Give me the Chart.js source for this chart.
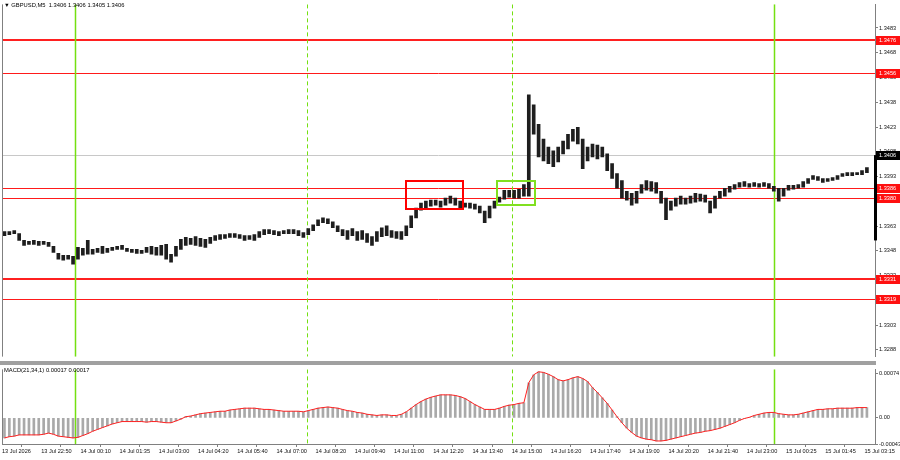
<!DOCTYPE html>
<html lang="en">
<head>
    <meta charset="UTF-8">
    <title>GBPUSD,M5</title>
    <script src="https://cdn.jsdelivr.net/npm/chart.js"></script>
    <style>
        body {
            margin: 0;
            background: #fff;
        }
        #wrap {
            position: relative;
            width: 900px;
            height: 460px;
            overflow: hidden;
            background: #fff;
        }
        canvas {
            position: absolute;
            left: 0;
        }
        #sep {
            position: absolute;
            left: 0;
            top: 361px;
            width: 876px;
            height: 4px;
            background: #a0a0a0;
        }
        .lbl {
            position: absolute;
            font-family: 'Liberation Sans', Arial, sans-serif;
            font-size: 5.8px;
            line-height: 7px;
            color: #000;
            white-space: pre;
        }
    </style>
</head>
<body>
<div id="wrap">
    <canvas id="mainChart" width="900" height="361" style="top:0"></canvas>
    <div id="sep"></div>
    <canvas id="macdChart" width="900" height="95" style="top:365px"></canvas>
    <div class="lbl" style="left:4px;top:2px">▼ GBPUSD,M5  1.3406 1.3406 1.3405 1.3406</div>
    <div class="lbl" style="left:4px;top:367px">MACD(21,34,1) 0.00017 0.00017</div>
</div>

<script>
// time axis labels, one every 16 five-minute bars
const timeLabels = ['13 Jul 2026', '13 Jul 22:50', '14 Jul 00:10', '14 Jul 01:35', '14 Jul 03:00', '14 Jul 04:20',
    '14 Jul 05:40', '14 Jul 07:00', '14 Jul 08:20', '14 Jul 09:40', '14 Jul 11:00', '14 Jul 12:20', '14 Jul 13:40',
    '14 Jul 15:00', '14 Jul 16:20', '14 Jul 17:40', '14 Jul 19:00', '14 Jul 20:20', '14 Jul 21:40', '14 Jul 23:00',
    '15 Jul 00:25', '15 Jul 01:45', '15 Jul 03:15'];
const timeTickBars = [0, 16, 32, 48, 64, 80, 96, 112, 128, 144, 160, 176, 192, 208, 224, 240, 256, 272, 288, 304, 320, 336, 352];

const priceTicks = [1.3288, 1.3303, 1.3318, 1.3333, 1.3348, 1.3363, 1.3378, 1.3393, 1.3408, 1.3423, 1.3438, 1.3453, 1.3468, 1.3483];
const macdTicks = [-0.00043, 0, 0.00074];

// price range of each slot (two M5 bars per slot)
const candleHigh = [
    1.33596, 1.33596, 1.33602, 1.33584, 1.33543, 1.33537, 1.33543, 1.33537, 1.33537, 1.33531,
    1.33507, 1.33465, 1.33453, 1.33453, 1.33447, 1.33501, 1.33495, 1.33543, 1.33489, 1.33495,
    1.33507, 1.33495, 1.33501, 1.33507, 1.33513, 1.33495, 1.33489, 1.33489, 1.33483, 1.33501,
    1.33507, 1.33501, 1.33513, 1.33519, 1.33459, 1.33507, 1.33549, 1.33561, 1.33555, 1.33566,
    1.33555, 1.33549, 1.33561, 1.33572, 1.33578, 1.33578, 1.33584, 1.33584, 1.33578, 1.33572,
    1.33572, 1.33578, 1.33596, 1.33608, 1.33608, 1.33602, 1.33596, 1.33602, 1.33608, 1.33608,
    1.33602, 1.33590, 1.33614, 1.33638, 1.33668, 1.33680, 1.33674, 1.33656, 1.33632, 1.33608,
    1.33602, 1.33614, 1.33596, 1.33602, 1.33584, 1.33566, 1.33596, 1.33620, 1.33632, 1.33602,
    1.33596, 1.33596, 1.33632, 1.33692, 1.33739, 1.33769, 1.33781, 1.33787, 1.33787, 1.33781,
    1.33799, 1.33811, 1.33799, 1.33781, 1.33769, 1.33769, 1.33763, 1.33751, 1.33721, 1.33751,
    1.33781, 1.33805, 1.33847, 1.33847, 1.33847, 1.33853, 1.33882, 1.34425, 1.34365, 1.34246,
    1.34157, 1.34109, 1.34085, 1.34109, 1.34145, 1.34186, 1.34216, 1.34228, 1.34157, 1.34109,
    1.34127, 1.34121, 1.34109, 1.34067, 1.34008, 1.33948, 1.33906, 1.33841, 1.33829, 1.33841,
    1.33882, 1.33906, 1.33900, 1.33894, 1.33841, 1.33799, 1.33781, 1.33799, 1.33811, 1.33799,
    1.33811, 1.33829, 1.33823, 1.33817, 1.33781, 1.33811, 1.33841, 1.33859, 1.33870, 1.33882,
    1.33894, 1.33900, 1.33888, 1.33894, 1.33888, 1.33894, 1.33888, 1.33870, 1.33859, 1.33859,
    1.33876, 1.33876, 1.33882, 1.33900, 1.33918, 1.33936, 1.33930, 1.33918, 1.33918, 1.33924,
    1.33936, 1.33948, 1.33954, 1.33954, 1.33954, 1.33966, 1.33984
];
const candleLow = [
    1.33572, 1.33578, 1.33584, 1.33543, 1.33513, 1.33519, 1.33519, 1.33513, 1.33519, 1.33507,
    1.33471, 1.33429, 1.33423, 1.33429, 1.33399, 1.33429, 1.33453, 1.33459, 1.33459, 1.33471,
    1.33465, 1.33471, 1.33483, 1.33489, 1.33489, 1.33477, 1.33471, 1.33465, 1.33465, 1.33471,
    1.33459, 1.33453, 1.33453, 1.33429, 1.33411, 1.33447, 1.33489, 1.33513, 1.33519, 1.33513,
    1.33507, 1.33501, 1.33525, 1.33543, 1.33549, 1.33555, 1.33561, 1.33561, 1.33555, 1.33543,
    1.33549, 1.33543, 1.33561, 1.33578, 1.33584, 1.33578, 1.33572, 1.33584, 1.33584, 1.33584,
    1.33572, 1.33561, 1.33578, 1.33602, 1.33632, 1.33650, 1.33644, 1.33620, 1.33596, 1.33572,
    1.33549, 1.33572, 1.33543, 1.33549, 1.33531, 1.33513, 1.33537, 1.33566, 1.33572, 1.33561,
    1.33555, 1.33549, 1.33572, 1.33620, 1.33680, 1.33727, 1.33739, 1.33751, 1.33757, 1.33745,
    1.33757, 1.33769, 1.33757, 1.33739, 1.33745, 1.33739, 1.33733, 1.33710, 1.33650, 1.33680,
    1.33739, 1.33775, 1.33793, 1.33805, 1.33799, 1.33799, 1.33811, 1.33811, 1.34186, 1.34049,
    1.34025, 1.34008, 1.33990, 1.34019, 1.34067, 1.34097, 1.34145, 1.34127, 1.33978, 1.34025,
    1.34049, 1.34037, 1.34049, 1.33966, 1.33918, 1.33859, 1.33799, 1.33787, 1.33757, 1.33769,
    1.33829, 1.33847, 1.33841, 1.33829, 1.33769, 1.33668, 1.33727, 1.33751, 1.33763, 1.33763,
    1.33769, 1.33775, 1.33781, 1.33775, 1.33710, 1.33739, 1.33799, 1.33811, 1.33835, 1.33853,
    1.33865, 1.33870, 1.33865, 1.33870, 1.33865, 1.33870, 1.33859, 1.33841, 1.33781, 1.33811,
    1.33847, 1.33853, 1.33859, 1.33865, 1.33888, 1.33912, 1.33906, 1.33894, 1.33900, 1.33906,
    1.33912, 1.33930, 1.33936, 1.33936, 1.33942, 1.33942, 1.33954
];

// MACD(21,34,1) main line, signal identical
const macdValues = [
    -0.00033, -0.00031, -0.00030, -0.00028, -0.00028, -0.00028, -0.00028, -0.00028, -0.00027, -0.00025,
    -0.00027, -0.00030, -0.00031, -0.00032, -0.00033, -0.00032, -0.00029, -0.00026, -0.00022, -0.00019,
    -0.00016, -0.00013, -0.00010, -0.00008, -0.00006, -0.00006, -0.00006, -0.00006, -0.00006, -0.00007,
    -0.00006, -0.00006, -0.00007, -0.00008, -0.00008, -0.00005, -0.00002, 0.00002, 0.00003, 0.00005,
    0.00007, 0.00008, 0.00009, 0.00010, 0.00011, 0.00011, 0.00013, 0.00014, 0.00015, 0.00016,
    0.00016, 0.00016, 0.00015, 0.00014, 0.00014, 0.00013, 0.00012, 0.00011, 0.00011, 0.00011,
    0.00011, 0.00010, 0.00012, 0.00014, 0.00016, 0.00017, 0.00018, 0.00017, 0.00016, 0.00014,
    0.00012, 0.00011, 0.00009, 0.00008, 0.00006, 0.00005, 0.00004, 0.00005, 0.00005, 0.00004,
    0.00004, 0.00006, 0.00010, 0.00016, 0.00022, 0.00027, 0.00031, 0.00034, 0.00036, 0.00038,
    0.00038, 0.00038, 0.00037, 0.00035, 0.00032, 0.00027, 0.00022, 0.00018, 0.00014, 0.00014,
    0.00014, 0.00016, 0.00019, 0.00021, 0.00022, 0.00024, 0.00025, 0.00058, 0.00071, 0.00076,
    0.00075, 0.00072, 0.00068, 0.00063, 0.00061, 0.00063, 0.00066, 0.00068, 0.00065, 0.00060,
    0.00050, 0.00042, 0.00033, 0.00024, 0.00013, 0.00002, -0.00008, -0.00017, -0.00024, -0.00030,
    -0.00033, -0.00035, -0.00036, -0.00038, -0.00038, -0.00037, -0.00035, -0.00033, -0.00031, -0.00029,
    -0.00027, -0.00025, -0.00024, -0.00022, -0.00021, -0.00019, -0.00017, -0.00014, -0.00011, -0.00008,
    -0.00004, -0.00001, 0.00001, 0.00004, 0.00006, 0.00008, 0.00009, 0.00009, 0.00007, 0.00006,
    0.00005, 0.00005, 0.00006, 0.00008, 0.00010, 0.00012, 0.00014, 0.00014, 0.00015, 0.00015,
    0.00016, 0.00016, 0.00016, 0.00016, 0.00017, 0.00017, 0.00017
];

const levelPrices = [1.3476, 1.3456, 1.3386, 1.3380, 1.3331, 1.3319];
const levelBold = [true, false, false, false, true, false];
const lastPrice = 1.3406;
const axisBarLow = 1.33543;

// vertical session lines, in bar units
const vLines = [
    { bar: 29.8, dashed: false },
    { bar: 124.5, dashed: true },
    { bar: 208.2, dashed: true },
    { bar: 315.1, dashed: false }
];
// marked zones
const boxes = [
    { from: 164.9, to: 188.2, top: 1.33906, bottom: 1.33739, color: '#ff0000' },
    { from: 202.0, to: 217.6, top: 1.33900, bottom: 1.33757, color: '#80e020' }
];

Chart.defaults.font.family = "'Liberation Sans', Arial, sans-serif";
Chart.defaults.font.size = 5.6;
Chart.defaults.color = '#111';

const xMax = 356.3;
const green = '#74e010';

const decor = {
    id: 'decor',
    beforeDatasetsDraw(chart, args, opts) {
        const { ctx, chartArea: a, scales: { x, y } } = chart;
        ctx.save();
        ctx.beginPath();
        ctx.rect(a.left, a.top, a.right - a.left, a.bottom - a.top);
        ctx.clip();
        if (opts.price) {
            let py = Math.round(y.getPixelForValue(lastPrice)) + 0.5;
            ctx.strokeStyle = '#c8c8c8';
            ctx.lineWidth = 1;
            ctx.beginPath(); ctx.moveTo(a.left, py); ctx.lineTo(a.right, py); ctx.stroke();
            levelPrices.forEach((p, i) => {
                const bold = levelBold[i];
                py = Math.round(y.getPixelForValue(p)) + (bold ? 0 : 0.5);
                ctx.strokeStyle = bold ? '#ff2020' : '#ff1a1a';
                ctx.lineWidth = bold ? 2 : 1;
                ctx.beginPath(); ctx.moveTo(a.left, py); ctx.lineTo(a.right, py); ctx.stroke();
            });
        }
        vLines.forEach(v => {
            const px = Math.round(x.getPixelForValue(v.bar)) + 0.5;
            ctx.strokeStyle = green;
            ctx.lineWidth = v.dashed ? 1 : 1.5;
            ctx.setLineDash(v.dashed ? [4, 3] : []);
            ctx.beginPath(); ctx.moveTo(px, a.top); ctx.lineTo(px, a.bottom); ctx.stroke();
        });
        ctx.setLineDash([]);
        ctx.restore();
    },
    afterDatasetsDraw(chart, args, opts) {
        if (!opts.price) return;
        const { ctx, scales: { x, y } } = chart;
        ctx.save();
        boxes.forEach(b => {
            const l = x.getPixelForValue(b.from), r = x.getPixelForValue(b.to);
            const t = y.getPixelForValue(b.top), btm = y.getPixelForValue(b.bottom);
            ctx.strokeStyle = b.color;
            ctx.lineWidth = 2;
            ctx.strokeRect(Math.round(l), Math.round(t), Math.round(r - l), Math.round(btm - t));
        });
        ctx.restore();
    },
    afterDraw(chart, args, opts) {
        const { ctx, chartArea: a, scales: { y } } = chart;
        ctx.save();
        // left frame
        ctx.strokeStyle = '#808080';
        ctx.lineWidth = 1;
        ctx.beginPath(); ctx.moveTo(a.left + 0.5, a.top); ctx.lineTo(a.left + 0.5, a.bottom); ctx.stroke();
        if (opts.price) {
            ctx.font = "5.6px 'Liberation Sans', Arial, sans-serif";
            ctx.textBaseline = 'middle';
            const tag = (p, bg) => {
                const py = Math.round(y.getPixelForValue(p));
                ctx.fillStyle = bg;
                ctx.fillRect(a.right + 1, py - 4, 24, 9);
                ctx.fillStyle = '#fff';
                ctx.fillText(p.toFixed(4), a.right + 4, py + 0.5);
            };
            levelPrices.forEach(p => tag(p, '#ff1010'));
            // bar along the price axis
            const y1 = y.getPixelForValue(lastPrice), y2 = y.getPixelForValue(axisBarLow);
            ctx.fillStyle = '#000';
            ctx.fillRect(a.right - 1, y1, 3, y2 - y1);
            tag(lastPrice, '#000');
        }
        ctx.restore();
    }
};

const axisGrid = { drawOnChartArea: false, tickLength: 3, color: '#808080' };

new Chart(document.getElementById('mainChart'), {
    type: 'bar',
    data: {
        datasets: [{
            data: candleHigh.map((h, i) => ({ x: 2 * i + 1, y: [candleLow[i], h] })),
            backgroundColor: '#1e1e1e',
            barThickness: 3
        }]
    },
    options: {
        responsive: false,
        animation: false,
        events: [],
        layout: { padding: { left: 2, top: 3, right: 0, bottom: 0 } },
        plugins: { legend: { display: false }, tooltip: { enabled: false }, decor: { price: true } },
        scales: {
            x: { type: 'linear', min: 0, max: xMax, offset: false, display: false },
            y: {
                type: 'linear',
                position: 'right',
                min: 1.32839,
                max: 1.34973,
                afterBuildTicks: s => { s.ticks = priceTicks.map(v => ({ value: v })); },
                afterFit: s => { s.width = 25; },
                ticks: { padding: 1, callback: v => v.toFixed(4) },
                grid: axisGrid,
                border: { color: '#808080' }
            }
        }
    },
    plugins: [decor]
});

const macdPoints = macdValues.map((v, i) => ({ x: 2 * i + 1, y: v }));

new Chart(document.getElementById('macdChart'), {
    type: 'bar',
    data: {
        datasets: [
            {
                type: 'line',
                data: macdPoints,
                borderColor: '#ff2020',
                borderWidth: 1,
                pointRadius: 0,
                tension: 0,
                order: 0
            },
            {
                data: macdPoints,
                backgroundColor: '#a9a9a9',
                barThickness: 2,
                order: 1
            }
        ]
    },
    options: {
        responsive: false,
        animation: false,
        events: [],
        layout: { padding: { left: 2, top: 1, right: 0, bottom: 0 } },
        plugins: { legend: { display: false }, tooltip: { enabled: false }, decor: { price: false } },
        scales: {
            x: {
                type: 'linear',
                min: 0,
                max: xMax,
                offset: false,
                afterBuildTicks: s => { s.ticks = timeTickBars.map(v => ({ value: v })); },
                afterFit: s => { s.height = 16; },
                ticks: {
                    autoSkip: false,
                    maxRotation: 0,
                    align: 'start',
                    padding: 1,
                    callback: (v, i) => timeLabels[i]
                },
                grid: axisGrid,
                border: { color: '#808080' }
            },
            y: {
                type: 'linear',
                position: 'right',
                min: -0.00043,
                max: 0.0008,
                afterBuildTicks: s => { s.ticks = macdTicks.map(v => ({ value: v })); },
                afterFit: s => { s.width = 25; },
                ticks: { padding: 1, callback: v => v === 0 ? '0.00' : v.toFixed(5) },
                grid: axisGrid,
                border: { color: '#808080' }
            }
        }
    },
    plugins: [decor]
});
</script>
</body>
</html>
